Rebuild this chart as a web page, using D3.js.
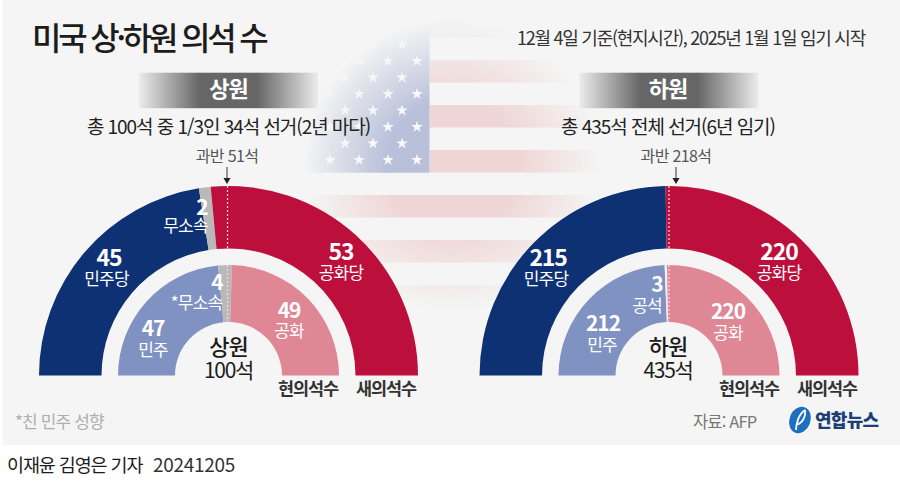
<!DOCTYPE html>
<html lang="ko">
<head>
<meta charset="utf-8">
<script src="https://cdn.jsdelivr.net/npm/d3@7"></script>
<style>
  html, body { margin: 0; padding: 0; background: #fff; }
  svg { display: block; }
  text { font-family: "Noto Sans CJK KR", "Noto Sans", sans-serif; letter-spacing: -0.04em; }
</style>
</head>
<body>
<div id="chart"></div>
<script>
// seats, new congress (outer ring) and current congress (inner ring)
const senateNew = [45, 2, 53];
const senateNow = [47, 4, 49];
const houseNew = [215, 220];
const houseNow = [212, 3, 220];

const senateNewNames = ["민주당", "무소속", "공화당"];
const senateNowNames = ["민주", "*무소속", "공화"];
const houseNewNames = ["민주당", "공화당"];
const houseNowNames = ["민주", "공석", "공화"];

const senateNewColors = ["#0e3173", "#b9b9b9", "#bd0f3c"];
const nowColors = ["#8092c2", "#b9b9b9", "#e08796"];
const houseNewColors = ["#0e3173", "#bd0f3c"];
const houseNowColors = ["#8092c2", "#eef0f5", "#e08796"];

const width = 900, height = 487;
const baseY = 375.5;
const rings = { outer: [127, 189.5], inner: [53.5, 110.5] };

const svg = d3.select("#chart").append("svg")
    .attr("width", width)
    .attr("height", height);

const defs = svg.append("defs");

// Panel background
svg.append("rect")
    .attr("x", 3).attr("y", 0)
    .attr("width", 897).attr("height", 445)
    .attr("fill", "#f5f5f5");

// Flag fade mask
const fade = defs.append("radialGradient").attr("id", "flagFade");
fade.append("stop").attr("offset", "0.45").attr("stop-color", "#fff");
fade.append("stop").attr("offset", "1").attr("stop-color", "#000");
defs.append("mask").attr("id", "flagMask")
    .attr("maskUnits", "userSpaceOnUse")
    .attr("x", 0).attr("y", 0).attr("width", width).attr("height", height)
    .append("ellipse")
    .attr("cx", 452).attr("cy", 165)
    .attr("rx", 148).attr("ry", 145)
    .attr("fill", "url(#flagFade)");

// Flag behind the charts
const flag = svg.append("g").attr("mask", "url(#flagMask)");
flag.selectAll(".stripe")
    .data(d3.range(-1, 6))
    .enter()
    .append("rect")
    .attr("class", "stripe")
    .attr("x", d => d < 3 ? 429.5 : 300)
    .attr("y", d => 60 + d * 45)
    .attr("width", d => d < 3 ? 200 : 330)
    .attr("height", 22.5)
    .attr("fill", "#efd5d5");
flag.append("rect")
    .attr("x", 300).attr("y", 20)
    .attr("width", 129.5).attr("height", 152.7)
    .attr("fill", "#b9c0d9");

// Stars, staggered rows
const star = d3.symbol().type(d3.symbolStar).size(42);
const starRows = d3.range(-1, 7);
starRows.forEach(r => {
    const xs = r % 2 === 0 ? [417, 388, 359, 330] : [402, 373, 345];
    flag.selectAll(null)
        .data(xs)
        .enter()
        .append("path")
        .attr("d", star)
        .attr("transform", d => `translate(${d},${61 + r * 16.5})`)
        .attr("fill", "#fff")
        .attr("opacity", 0.9);
});

// Text helper
function label(parent, txt, x, y, size, opts = {}) {
    return parent.append("text")
        .attr("x", x)
        .attr("y", y)
        .attr("text-anchor", opts.anchor || "middle")
        .attr("font-size", size)
        .attr("font-weight", opts.weight || 400)
        .attr("fill", opts.fill || "#fff")
        .style("letter-spacing", opts.ls || null)
        .text(txt);
}

// Header
label(svg, "미국 상·하원 의석 수", 32, 50, 32, { anchor: "start", weight: 500, fill: "#1c1c1c", ls: "-0.1em" });
label(svg, "12월 4일 기준(현지시간), 2025년 1월 1일 임기 시작", 517, 45, 18, { anchor: "start", fill: "#333", ls: "-0.07em" });

// Title band gradient
const band = defs.append("linearGradient").attr("id", "bandFade");
[[0, "#ececec"], [0.34, "#666"], [0.66, "#666"], [1, "#ececec"]].forEach(s => {
    band.append("stop").attr("offset", s[0]).attr("stop-color", s[1]);
});

const pie = d3.pie().sort(null).startAngle(-Math.PI / 2).endAngle(Math.PI / 2);

function drawRing(g, values, colors, radii) {
    const arc = d3.arc().innerRadius(radii[0]).outerRadius(radii[1]);
    g.selectAll(null)
        .data(pie(values))
        .enter()
        .append("path")
        .attr("d", arc)
        .attr("fill", (d, i) => colors[i]);
}

function drawChamber(cx, c) {
    const g = svg.append("g").attr("transform", `translate(${cx},${baseY})`);

    svg.append("rect")
        .attr("x", cx + c.bandX).attr("y", 72.7)
        .attr("width", 179).attr("height", 35.5)
        .attr("fill", "url(#bandFade)");

    drawRing(g, c.outer, c.outerColors, rings.outer);
    drawRing(g, c.inner, c.innerColors, rings.inner);

    // Majority line across both rings
    [rings.outer, rings.inner].forEach(r => {
        g.append("line")
            .attr("x1", c.lineX).attr("x2", c.lineX)
            .attr("y1", -r[1]).attr("y2", -r[0])
            .attr("stroke", "#f6d9e0")
            .attr("stroke-width", 1.2)
            .attr("stroke-dasharray", "2,2");
    });

    // Majority arrow
    const ax = cx + c.arrowX;
    svg.append("line")
        .attr("x1", ax).attr("x2", ax)
        .attr("y1", 167).attr("y2", 179)
        .attr("stroke", "#333");
    svg.append("path")
        .attr("d", d3.symbol().type(d3.symbolTriangle).size(22))
        .attr("transform", `translate(${ax},180) rotate(180)`)
        .attr("fill", "#222");

    label(svg, c.name, cx + c.nameX, 97, 22, { weight: 700 });
    label(svg, c.sub, cx + c.nameX, 134, 19, { fill: "#222", ls: "-0.055em" });
    label(svg, c.majority, cx + c.arrowX, 162, 16, { fill: "#555", ls: "-0.04em" });

    // Centre label
    label(g, c.name, c.nameX, -20.5, 22, { weight: 500, fill: "#1c1c1c" });
    label(g, c.total, c.nameX, 2.5, 21, { fill: "#1c1c1c", ls: "-0.06em" });

    // Ring captions
    label(g, "현의석수", c.nowX, 19.5, 17.5, { weight: 700, fill: "#333", ls: "-0.06em" });
    label(g, "새의석수", c.newX, 19.5, 17.5, { weight: 700, fill: "#333", ls: "-0.06em" });

    // Value and party labels
    c.labels.forEach(l => {
        label(g, l.value, l.x, l.y, l.big ? 23 : 21, { weight: 700, ls: "-0.05em" });
        label(g, l.name, l.nx === undefined ? l.x : l.nx, l.y + l.gap, 17, { ls: "-0.05em" });
    });
}

drawChamber(228.5, {
    name: "상원",
    sub: "총 100석 중 1/3인 34석 선거(2년 마다)",
    majority: "과반 51석",
    total: d3.sum(senateNew) + "석",
    outer: senateNew, outerColors: senateNewColors,
    inner: senateNow, innerColors: nowColors,
    bandX: -89.5, nameX: 0, lineX: -1, arrowX: -1.5, nowX: 79.5, newX: 157.5,
    labels: [
        { value: senateNew[0], name: senateNewNames[0], x: -119.5, nx: -122, y: -109.5, gap: 19, big: true },
        { value: senateNew[1], name: senateNewNames[1], x: -26.5, nx: -43, y: -160.5, gap: 17, big: false },
        { value: senateNew[2], name: senateNewNames[2], x: 112.5, y: -115.5, gap: 19, big: true },
        { value: senateNow[0], name: senateNowNames[0], x: -75.5, y: -39.5, gap: 20 },
        { value: senateNow[1], name: senateNowNames[1], x: -11.5, nx: -32, y: -85.5, gap: 19 },
        { value: senateNow[2], name: senateNowNames[2], x: 60.5, y: -57.5, gap: 19 }
    ]
});

drawChamber(669, {
    name: "하원",
    sub: "총 435석 전체 선거(6년 임기)",
    majority: "과반 218석",
    total: d3.sum(houseNew) + "석",
    outer: houseNew, outerColors: houseNewColors,
    inner: houseNow, innerColors: houseNowColors,
    bandX: -89.5, nameX: -1, lineX: 0, arrowX: 7, nowX: 80, newX: 158,
    labels: [
        { value: houseNew[0], name: houseNewNames[0], x: -121, nx: -123, y: -109.5, gap: 19, big: true },
        { value: houseNew[1], name: houseNewNames[1], x: 110, y: -115.5, gap: 19, big: true },
        { value: houseNow[0], name: houseNowNames[0], x: -66, nx: -67, y: -44.5, gap: 20 },
        { value: houseNow[1], name: houseNowNames[1], x: -12, nx: -22, y: -83.5, gap: 20 },
        { value: houseNow[2], name: houseNowNames[2], x: 59, y: -56.5, gap: 20 }
    ]
});

// Footer
label(svg, "*친 민주 성향", 15, 428, 17, { anchor: "start", fill: "#aeaeae", ls: "-0.05em" });
label(svg, "자료: AFP", 693, 428, 16.5, { anchor: "start", fill: "#777", ls: "-0.05em" });
label(svg, "이재윤 김영은 기자", 7, 472, 18.5, { anchor: "start", fill: "#1c1c1c", ls: "-0.06em" });
label(svg, "20241205", 153, 472, 19, { anchor: "start", fill: "#333", ls: "-0.015em" });

// Yonhap logo
svg.append("ellipse")
    .attr("cx", 800).attr("cy", 420)
    .attr("rx", 10.5).attr("ry", 13.5)
    .attr("transform", "rotate(20 800 420)")
    .attr("fill", "#1d6fc0");
svg.append("path")
    .attr("d", "M805 410 C799 414 796 423 796 430 M805 410 C806 416 803 423 796 425")
    .attr("fill", "none")
    .attr("stroke", "#fff")
    .attr("stroke-width", 1.8);
label(svg, "연합뉴스", 815, 427, 18, { anchor: "start", weight: 900, fill: "#1c3f75" });
</script>
</body>
</html>
